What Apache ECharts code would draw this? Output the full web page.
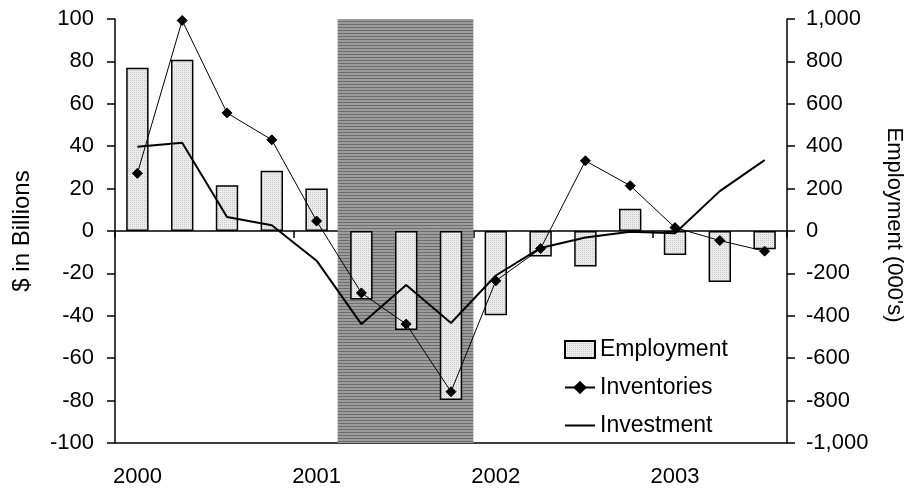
<!DOCTYPE html>
<html>
<head>
<meta charset="utf-8">
<script src="https://cdn.jsdelivr.net/npm/echarts@6/dist/echarts.min.js"></script>
<style>html,body{margin:0;padding:0;background:#fff}#c{width:913px;height:492px}</style>
</head>
<body>
<div id="c"></div>
<script>
const quarters = ['2000Q1','2000Q2','2000Q3','2000Q4','2001Q1','2001Q2','2001Q3','2001Q4','2002Q1','2002Q2','2002Q3','2002Q4','2003Q1','2003Q2','2003Q3'];
const yearLabels = ['2000','2001','2002','2003'];
const employment = [770, 808, 216, 284, 201, -323, -467, -797, -397, -120, -167, 105, -113, -241, -86];
const inventories = [27.2, 99.3, 55.7, 43.0, 4.7, -29.2, -43.9, -75.8, -23.5, -8.3, 33.1, 21.4, 1.6, -4.5, -9.5];
const investment = [39.7, 41.6, 6.6, 2.7, -14.0, -43.9, -25.5, -43.4, -21.0, -8.0, -3.1, -0.3, -1.1, 18.8, 33.4];
const recessionStart = 4.97; // in quarter units from 2000Q1
const recessionEnd = 8.0;

function stripePattern() {
  const c = document.createElement('canvas');
  c.width = 4; c.height = 3;
  const g = c.getContext('2d');
  g.fillStyle = '#9c9c9c'; g.fillRect(0,0,4,3);
  g.fillStyle = '#6e6e6e'; g.fillRect(0,0,4,1);
  return c;
}
function dotPattern() {
  const c = document.createElement('canvas');
  c.width = 2; c.height = 2;
  const g = c.getContext('2d');
  g.fillStyle = '#ececec'; g.fillRect(0,0,2,2);
  g.fillStyle = '#c9c9c9'; g.fillRect(0,0,1,1);
  return c;
}

const FONT = 'Liberation Sans';
const chart = echarts.init(document.getElementById('c'), null, {renderer: 'canvas'});
const black = '#000';
chart.setOption({
  animation: false,
  backgroundColor: '#fff',
  textStyle: {fontFamily: FONT, color: black},
  grid: {left: 115, right: 124, top: 19, bottom: 49},
  legend: {
    data: [
      {name: 'Employment', icon: 'rect'},
      {name: 'Inventories'},
      {name: 'Investment', icon: 'path://M0,0h30v2h-30z'}
    ],
    orient: 'vertical',
    left: 559, top: 333,
    itemWidth: 30, itemHeight: 17, itemGap: 15,
    textStyle: {fontSize: 23, color: black, fontFamily: FONT}
  },
  xAxis: [
    {
      type: 'category', data: quarters, position: 'bottom',
      axisLine: {onZero: true, lineStyle: {color: black, width: 1.5}},
      axisTick: {show: true, interval: 3, length: 7, lineStyle: {color: black, width: 1.5}},
      axisLabel: {show: false},
      splitLine: {show: false}
    },
    {
      type: 'category', data: quarters, position: 'bottom',
      axisLine: {onZero: false, lineStyle: {color: black, width: 1.5}},
      axisTick: {show: false},
      axisLabel: {interval: 3, fontSize: 22, margin: 23, color: black, fontFamily: FONT,
        formatter: (v, i) => yearLabels[Math.floor(i / 4)]},
      splitLine: {show: false}
    },
    {type: 'value', min: 0, max: quarters.length, show: false}
  ],
  yAxis: [
    {
      type: 'value', min: -100, max: 100, interval: 20, position: 'left',
      axisLine: {show: true, onZero: false, lineStyle: {color: black, width: 1.5}},
      axisTick: {show: true, length: 8, lineStyle: {color: black, width: 1.5}},
      axisLabel: {fontSize: 22, margin: 21, color: black, fontFamily: FONT},
      splitLine: {show: false},
      name: '$ in Billions', nameLocation: 'middle', nameGap: 81,
      nameTextStyle: {fontSize: 24, color: black, fontFamily: FONT}
    },
    {
      type: 'value', min: -1000, max: 1000, interval: 200, position: 'right',
      axisLine: {show: true, onZero: false, lineStyle: {color: black, width: 1.5}},
      axisTick: {show: true, length: 8, lineStyle: {color: black, width: 1.5}},
      axisLabel: {fontSize: 22, margin: 19, color: black, fontFamily: FONT,
        formatter: v => v.toLocaleString('en-US')},
      splitLine: {show: false},
      name: "Employment (000's)", nameLocation: 'middle', nameGap: 96, nameRotate: -90,
      nameTextStyle: {fontSize: 22, color: black, fontFamily: FONT, padding: [0, 12, 0, 0]}
    }
  ],
  series: [
    {
      name: 'recession', type: 'line', xAxisIndex: 2, yAxisIndex: 0, data: [], z: 1,
      silent: true,
      markArea: {
        silent: true,
        itemStyle: {color: {image: stripePattern(), repeat: 'repeat'}},
        data: [[{xAxis: recessionStart}, {xAxis: recessionEnd}]]
      }
    },
    {
      name: 'Employment', type: 'bar', xAxisIndex: 0, yAxisIndex: 1, data: employment,
      barWidth: '50%', z: 2,
      itemStyle: {color: {image: dotPattern(), repeat: 'repeat'}, borderColor: black, borderWidth: 1.5}
    },
    {
      name: 'Inventories', type: 'line', xAxisIndex: 0, yAxisIndex: 0, data: inventories, z: 4,
      symbol: 'diamond', symbolSize: 10, showAllSymbol: true,
      lineStyle: {color: black, width: 1},
      itemStyle: {color: black, borderColor: black}
    },
    {
      name: 'Investment', type: 'line', xAxisIndex: 0, yAxisIndex: 0, data: investment, z: 3,
      symbol: 'none', showSymbol: false,
      lineStyle: {color: black, width: 2},
      itemStyle: {color: black}
    }
  ]
});
</script>
</body>
</html>
